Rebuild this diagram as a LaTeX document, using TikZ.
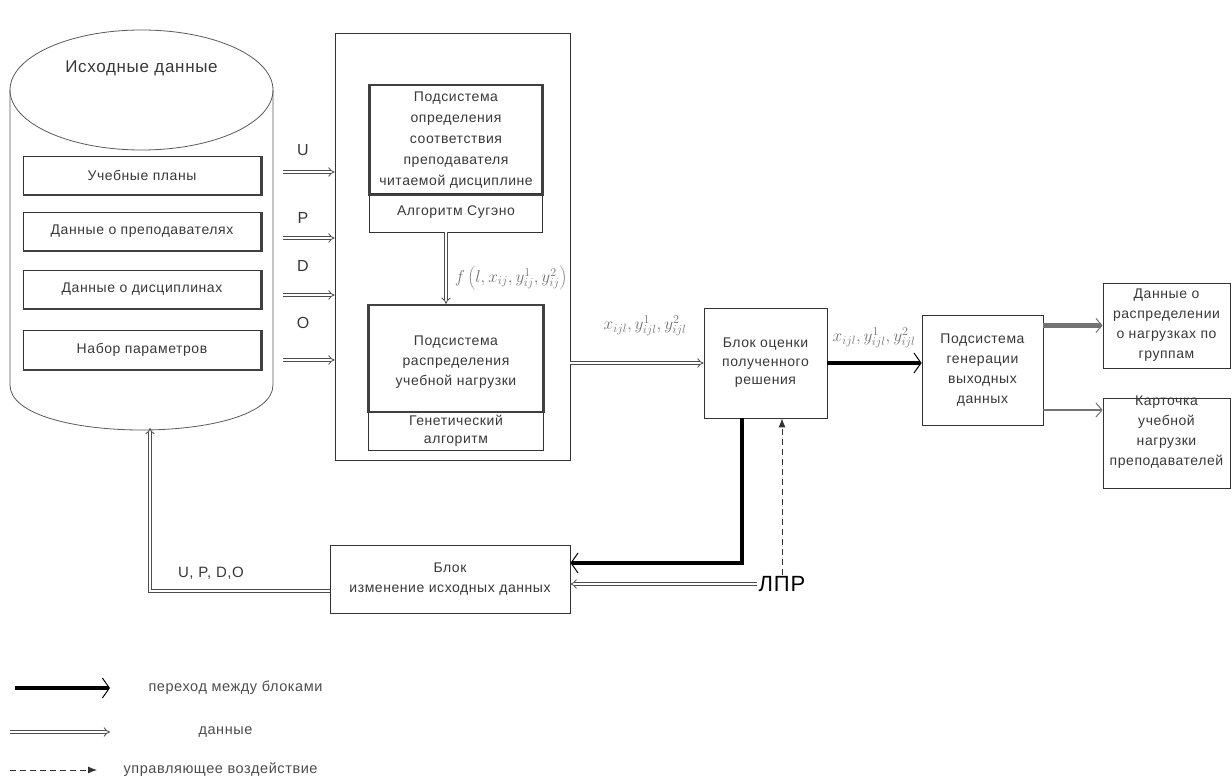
\documentclass[tikz,border=0pt]{standalone}
\usepackage{fontspec}
\setmainfont[LetterSpace=4]{Liberation Sans}
\usetikzlibrary{arrows.meta}
\begin{document}
\begin{tikzpicture}[x=1pt,y=-1pt,
  txt/.style={text=black!78, font=\fontsize{14}{20}\selectfont, align=center},
  box/.style={draw=black!80, line width=0.8pt, inner sep=0pt},
  thickbox/.style={draw=black!75, line width=2.2pt, inner sep=0pt},
  data/.style={draw=black!70, double=white, double distance=2.4pt, line width=0.8pt, -{Implies}},
  trans/.style={draw=black, line width=3.5pt, line join=miter, -{Straight Barb[line width=1pt,length=7pt,width=20pt]}},
  grayarr/.style={draw=black!55, -{Straight Barb[line width=1pt,length=6pt,width=14pt]}},
  ctrl/.style={draw=black!80, dashed, dash pattern=on 6pt off 4pt, line width=0.8pt, -{Latex[length=9pt,width=7pt]}},
  cylline/.style={draw=black!65, line width=0.8pt},
  shadow/.style={draw=black!75, line width=2.2pt},
  mlabel/.style={text=black!55, font=\fontsize{16.5}{18}\selectfont},
  lbl/.style={text=black!78, font=\fontsize{16}{18}\selectfont},
  leg/.style={text=black!70, font=\fontsize{14.5}{16}\selectfont, anchor=west},
]
\useasboundingbox (0,0) rectangle (1232,783);

% ---- cylinder "Исходные данные"
\draw[cylline] (10,90) -- (10,385) .. controls (10,445) and (273,445) .. (273,385) -- (273,90);
\draw[cylline] (141.5,90) ellipse [x radius=131.5, y radius=60];
\node[txt, font=\fontsize{17}{20}\selectfont] (title) at (141.5,68) {Исходные данные};
\coordinate (cylb) at (150,428);

\node[box, txt, minimum width=238, minimum height=39] (plans) at (142,175.5) {Учебные планы};
\node[box, txt, minimum width=238, minimum height=39] (teach) at (142,231.5) {Данные о преподавателях};
\node[box, txt, minimum width=238, minimum height=39] (disc) at (142,289.5) {Данные о дисциплинах};
\node[box, txt, minimum width=238, minimum height=40] (param) at (142,350) {Набор параметров};
\foreach \n in {plans,teach,disc,param}{
  \draw[shadow] (\n.south west) -- (\n.south east) -- (\n.north east);
}

% ---- outer block
\node[box, minimum width=235, minimum height=427] (outer) at (452.5,246.5) {};

% inputs
\coordinate (uin) at (283,172);
\coordinate (pin) at (283,238);
\coordinate (din) at (283,295);
\coordinate (oin) at (283,360);
\draw[data] (uin) -- (uin -| outer.west);
\draw[data] (pin) -- (pin -| outer.west);
\draw[data] (din) -- (din -| outer.west);
\draw[data] (oin) -- (oin -| outer.west);
\node[lbl] (lu) at (303,150) {U};
\node[lbl] (lp) at (303,218) {P};
\node[lbl] (ld) at (303,266) {D};
\node[lbl] (lo) at (303,323) {O};

% Sugeno subsystem
\node[box, txt, minimum width=173, minimum height=39] (sugalg) at (456,212.5) {Алгоритм Сугэно};
\node[thickbox, txt, minimum width=173, minimum height=110, font=\fontsize{14}{21}\selectfont] (sug) at (456,140)
  {Подсистема\\определения\\соответствия\\преподавателя\\читаемой дисциплине};

% GA subsystem
\node[box, txt, minimum width=175, minimum height=38, font=\fontsize{14}{18}\selectfont] (gaalg) at (456,431) {Генетический\\алгоритм};
\node[thickbox, minimum width=175, minimum height=107] (gatop) at (456,358.5) {};
\node[txt] (gatxt) at (456,362) {Подсистема\\распределения\\учебной нагрузки};

\draw[data] ([xshift=-10pt]sugalg.south) -- ([xshift=-10pt]gatop.north);
\node[mlabel] (flab) at (511,278) {$f\left(l, x_{ij}, y^{1}_{ij}, y^{2}_{ij}\right)$};

% evaluation block
\node[box, txt, minimum width=123, minimum height=110, font=\fontsize{14}{18.5}\selectfont] (ocen) at (765.5,363) {Блок оценки\\полученного\\решения};
\draw[data] (outer.east |- ocen.west) -- (ocen.west);
\node[mlabel] (x1) at (645,326) {$x_{ijl}, y^{1}_{ijl}, y^{2}_{ijl}$};

% generation block
\node[box, txt, minimum width=121, minimum height=110] (gen) at (982.5,370) {Подсистема\\генерации\\выходных\\данных};
\draw[trans] (ocen.east) -- (ocen.east -| gen.west);
\node[mlabel] (x2) at (874,338) {$x_{ijl}, y^{1}_{ijl}, y^{2}_{ijl}$};

% outputs
\node[box, txt, minimum width=127, minimum height=85] (d1) at (1166.5,325.5) {Данные о\\распределении\\о нагрузках по\\группам};
\node[box, minimum width=127, minimum height=90] (d2) at (1166.5,443) {};
\node[txt] (d2t) at (1166.5,432) {Карточка\\учебной\\нагрузки\\преподавателей};
\draw[grayarr, line width=5pt] (gen.east |- d1.west) -- (d1.west);
\coordinate (d2in) at ([yshift=33pt]d2.west);
\draw[grayarr, line width=2.5pt] (gen.east |- d2in) -- (d2in);

% change block
\node[box, txt, minimum width=240, minimum height=68] (chg) at (450,579) {Блок\\изменение исходных данных};
\coordinate (tk) at ([xshift=-23.5pt]ocen.south);
\coordinate (chgin1) at ([yshift=16pt]chg.east);
\draw[trans] (tk) |- (chgin1);
\node[text=black, font=\fontsize{22}{24}\selectfont, inner sep=1pt] (lpr) at (782,584) {ЛПР};
\draw[data] (lpr.west) -- (lpr.west -| chg.east);
\draw[ctrl] (lpr.north) -- (lpr.north |- ocen.south);

\draw[data] ([yshift=-12pt]chg.west) -| (cylb);
\node[lbl, font=\fontsize{15}{18}\selectfont] (upd) at (211,573) {U, P, D,O};

% legend
\coordinate (l1a) at (15,688);
\coordinate (l1b) at (110,688);
\coordinate (l2a) at (10,732);
\coordinate (l2b) at (110,732);
\coordinate (l3a) at (10,770);
\coordinate (l3b) at (97,770);
\draw[trans] (l1a) -- (l1b);
\draw[data] (l2a) -- (l2b);
\draw[ctrl] (l3a) -- (l3b);
\node[leg] (t1) at (145,688) {переход между блоками};
\node[leg] (t2) at (195,732) {данные};
\node[leg] (t3) at (120,770) {управляющее воздействие};
\end{tikzpicture}
\end{document}
